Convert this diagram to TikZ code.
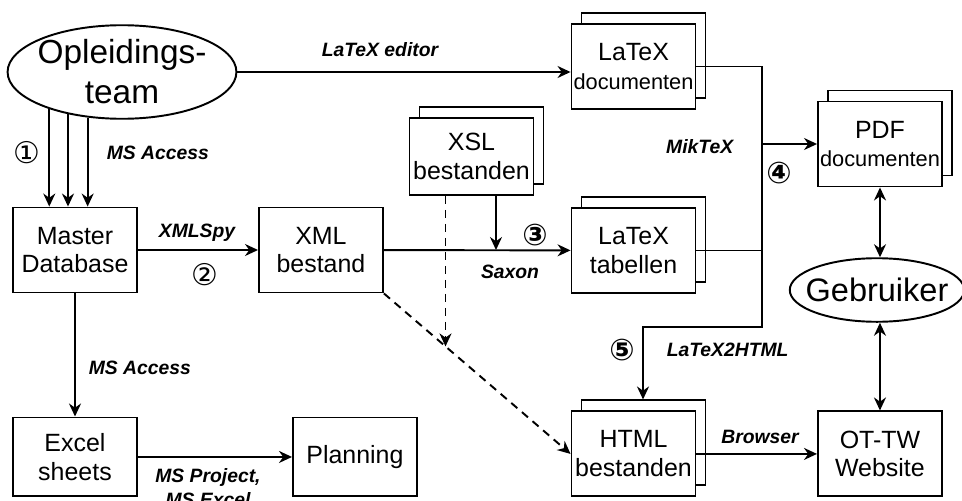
\documentclass[tikz,border=0pt]{standalone}
\usepackage{fontspec}
\setmainfont{Liberation Sans}
\newfontfamily\circfont{DejaVu Sans}
\usetikzlibrary{shapes.geometric, arrows.meta, positioning, calc, shadows}
\newcommand{\docfont}{\fontsize{12.4}{14}\selectfont}
\tikzset{
	block/.style={rectangle, draw, fill=white, minimum width=2.48cm, minimum height=1.7cm, inner sep=0pt, align=center, font=\fontsize{14.2}{16.4}\selectfont},
	stack/.style={block, copy shadow={shadow xshift=2mm, shadow yshift=2.2mm, draw=black, fill=white, line width=1.1pt}},
	actor/.style={ellipse, draw, align=center, font=\fontsize{19}{22.7}\selectfont},
	tool/.style={font=\fontsize{11}{13.5}\selectfont\bfseries\itshape},
	stepnr/.style={font=\fontsize{17}{20}\selectfont\circfont},
	boldnr/.style={font=\fontsize{17}{20}\selectfont\circfont\bfseries},
	dashline/.style={dash pattern=on 1.6mm off 1.2mm}
}

\begin{document}
\begin{tikzpicture}[
		x=0.02cm, y=-0.02cm,
		line width=1.1pt,
		node distance=2.5cm,
		>={Stealth[length=2.6mm, width=2.4mm]}
		]
		\useasboundingbox (0,0) rectangle (962,500);
		
		% Left column
		\node[actor, inner xsep=-2pt, inner ysep=0.5pt] (team) at (122,72) {Opleidings-\\team};
		\node[block] (master) at (75,250) {Master\\Database};
		\node[block, right of=master, node distance=4.92cm] (xml) {XML\\bestand};
		\node[block, below of=master, node distance=4.14cm, minimum height=1.58cm] (excel) {Excel\\sheets};
		\node[block, right of=excel, node distance=5.6cm, minimum height=1.58cm] (planning) {Planning};
		
		% Middle column - stacked files
		\node[stack, minimum height=1.54cm] (xsl) at (471.5,156.5) {XSL\\bestanden};
		\node[stack] (texdoc) at (633.5,66.5) {LaTeX\\{\docfont documenten}};
		\node[stack, below of=texdoc, node distance=3.68cm] (textab) {LaTeX\\tabellen};
		\node[stack, below of=textab, node distance=4.07cm] (html) {HTML\\bestanden};
		
		% Right column
		\node[stack] (pdf) at (880,144) {PDF\\{\docfont documenten}};
		\node[block, right of=html, node distance=4.93cm] (site) {OT-TW\\Website};
		\node[actor, inner xsep=-5.5pt, inner ysep=6pt, font=\fontsize{18.5}{21}\selectfont] (user) at (877,290) {Gebruiker};
		
		% Step 1: team -> database
		\draw[->] (team.207) -- (team.207 |- master.north);
		\draw[->] (team.218) -- (team.218 |- master.north);
		\draw[->] (team.233) -- (team.233 |- master.north);
		\node[stepnr] (n1) at (27,153) {①};
		\node[tool, anchor=west] (access1) at (100,153) {MS Access};
		
		% LaTeX editor
		\draw[->] (team.east) -- (team.east -| texdoc.west);
		\node[tool] (editor) at (380,50) {LaTeX editor};
		
		% Step 2: XMLSpy
		\draw[->] (master) -- (xml);
		\node[tool] (xmlspy) at (197,233) {XMLSpy};
		\node[stepnr] (n2) at (205,275) {②};
		
		% Step 3: Saxon
		\draw[->] (xml) -- (textab);
		\draw[->] ([xshift=0.49cm]xsl.south) -- ([xshift=0.49cm]xsl.south |- xml.east);
		\node[tool] (saxon) at (510,272) {Saxon};
		\node[boldnr] (n3) at (535,235) {③};
		
		% dashed: XSL + XML -> HTML
		\coordinate (hit) at ($(xml.south east)!0.33!(html.west)$);
		\draw[->, dashline] (hit |- xsl.south) -- (hit);
		\draw[->, dashline] (xml.south east) -- (html.west);
		
		% Step 4: MikTeX
		\coordinate (split) at (762,144);
		\draw (texdoc.east) -| (split);
		\draw (textab.east) -| (split);
		\draw[->] (split) -- (pdf.west);
		\node[tool, anchor=east] (miktex) at (740,147) {MikTeX};
		\node[boldnr] (n4) at (779,173) {④};
		
		% Step 5: LaTeX2HTML
		\coordinate (bend) at (643,327);
		\draw[->] (textab.east -| split) |- (bend) -- ([yshift=2.2mm]html.north -| bend);
		\node[boldnr] (n5) at (622,350) {⑤};
		\node[tool, anchor=west] (l2h) at (660,350) {LaTeX2HTML};
		
		% Gebruiker
		\draw[<->] (pdf.south) -- (pdf.south |- user.north);
		\draw[<->] (site.north |- user.south) -- (site.north);
		
		% Browser
		\draw[->] (html) -- (site);
		\node[tool] (browser) at (760,437) {Browser};
		
		% Excel and planning
		\draw[->] (master) -- (excel);
		\node[tool, anchor=west] (access2) at (82,368) {MS Access};
		\draw[->] (excel) -- (planning);
		\node[tool, align=center, anchor=north] (project) at (208,462) {MS Project,\\MS Excel};
		
	\end{tikzpicture}
\end{document}
